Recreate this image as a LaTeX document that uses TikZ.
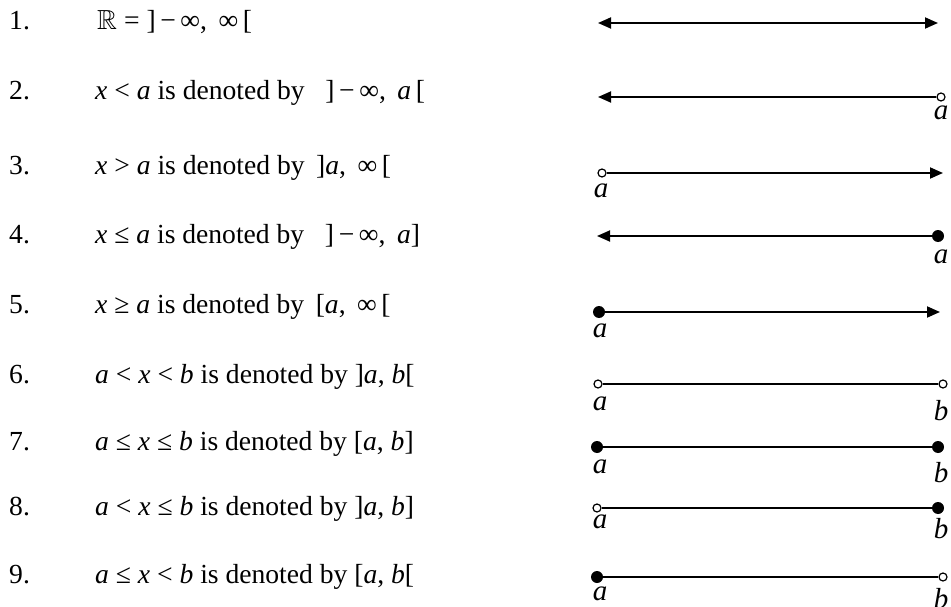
\documentclass[tikz,border=0pt]{standalone}
\usepackage{amssymb}
\usepackage{fontspec}
\setmainfont{Liberation Serif}
\usetikzlibrary{arrows.meta}
\newcommand\ia{\textit{a}}
\newcommand\ib{\textit{b}}
\newcommand\ix{\textit{x}}
\begin{document}
\begin{tikzpicture}[x=1pt,y=-1pt,
  font=\fontsize{27.6}{32}\selectfont,
  txt/.style={anchor=base west,inner sep=0pt},
  lbl/.style={anchor=base,inner sep=0pt,font=\fontsize{29}{32}\selectfont},
  ln/.style={line width=1.8pt},
  tip/.tip={Triangle[length=13pt,width=11pt]},
  openpt/.style={circle,draw,fill=white,inner sep=0pt,minimum size=8pt,line width=1.2pt},
  closedpt/.style={circle,fill=black,inner sep=0pt,minimum size=12pt}]
\useasboundingbox (0,0) rectangle (951,607);
% numbers
\node[txt] (n1) at (9,30) {1.};
\node[txt] (n2) at (9,100) {2.};
\node[txt] (n3) at (9,175) {3.};
\node[txt] (n4) at (9,243) {4.};
\node[txt] (n5) at (9,313) {5.};
\node[txt] (n6) at (9,383) {6.};
\node[txt] (n7) at (9,450) {7.};
\node[txt] (n8) at (9,515) {8.};
\node[txt] (n9) at (9,583) {9.};
% texts
\node[txt] (t1) at (97,30) {$\mathbb{R}$ = ]\,−\,∞, \,∞\,[};
\node[txt] (t2) at (95,100) {\ix{} < \ia{} is denoted by \enspace]\,−\,∞, \,\ia\,[};
\node[txt] (t3) at (95,175) {\ix{} > \ia{} is denoted by \,]\ia, \,∞\,[};
\node[txt] (t4) at (95,243) {\ix{} ≤ \ia{} is denoted by \enspace]\,−\,∞, \,\ia]};
\node[txt] (t5) at (95,313) {\ix{} ≥ \ia{} is denoted by \,[\ia, \,∞\,[};
\node[txt] (t6) at (95,383) {\ia{} < \ix{} < \ib{} is denoted by ]\ia, \ib[};
\node[txt] (t7) at (95,450) {\ia{} ≤ \ix{} ≤ \ib{} is denoted by [\ia, \ib]};
\node[txt] (t8) at (95,515) {\ia{} < \ix{} ≤ \ib{} is denoted by ]\ia, \ib]};
\node[txt] (t9) at (95,583) {\ia{} ≤ \ix{} < \ib{} is denoted by [\ia, \ib[};
% row 1
\coordinate (l1) at (598,23);
\coordinate (r1) at (938,23);
\draw[ln,tip-tip] (l1) -- (r1);
% row 2
\coordinate (l2) at (598,97);
\node[openpt] (r2) at (941,97) {};
\draw[ln,-tip] (r2) -- (l2);
\node[lbl] (ra2) at (941,120) {\ia};
% row 3
\node[openpt] (l3) at (602,173) {};
\coordinate (r3) at (943,173);
\draw[ln,-tip] (l3) -- (r3);
\node[lbl] (la3) at (601,197) {\ia};
% row 4
\coordinate (l4) at (597,236);
\node[closedpt] (r4) at (938,236) {};
\draw[ln,-tip] (r4) -- (l4);
\node[lbl] (ra4) at (941,263) {\ia};
% row 5
\node[closedpt] (l5) at (599,312) {};
\coordinate (r5) at (940,312);
\draw[ln,-tip] (l5) -- (r5);
\node[lbl] (la5) at (600,337) {\ia};
% row 6
\node[openpt] (l6) at (598,384) {};
\node[openpt] (r6) at (943,384) {};
\draw[ln] (l6) -- (r6);
\node[lbl] (la6) at (600,410) {\ia};
\node[lbl] (rb6) at (941,420) {\ib};
% row 7
\node[closedpt] (l7) at (597,447) {};
\node[closedpt] (r7) at (938,447) {};
\draw[ln] (l7) -- (r7);
\node[lbl] (la7) at (600,473) {\ia};
\node[lbl] (rb7) at (941,482) {\ib};
% row 8
\node[openpt] (l8) at (597,508) {};
\node[closedpt] (r8) at (938,508) {};
\draw[ln] (l8) -- (r8);
\node[lbl] (la8) at (600,528) {\ia};
\node[lbl] (rb8) at (941,538) {\ib};
% row 9
\node[closedpt] (l9) at (597,577) {};
\node[openpt] (r9) at (943,577) {};
\draw[ln] (l9) -- (r9);
\node[lbl] (la9) at (600,600) {\ia};
\node[lbl] (rb9) at (941,608) {\ib};
\end{tikzpicture}
\end{document}
